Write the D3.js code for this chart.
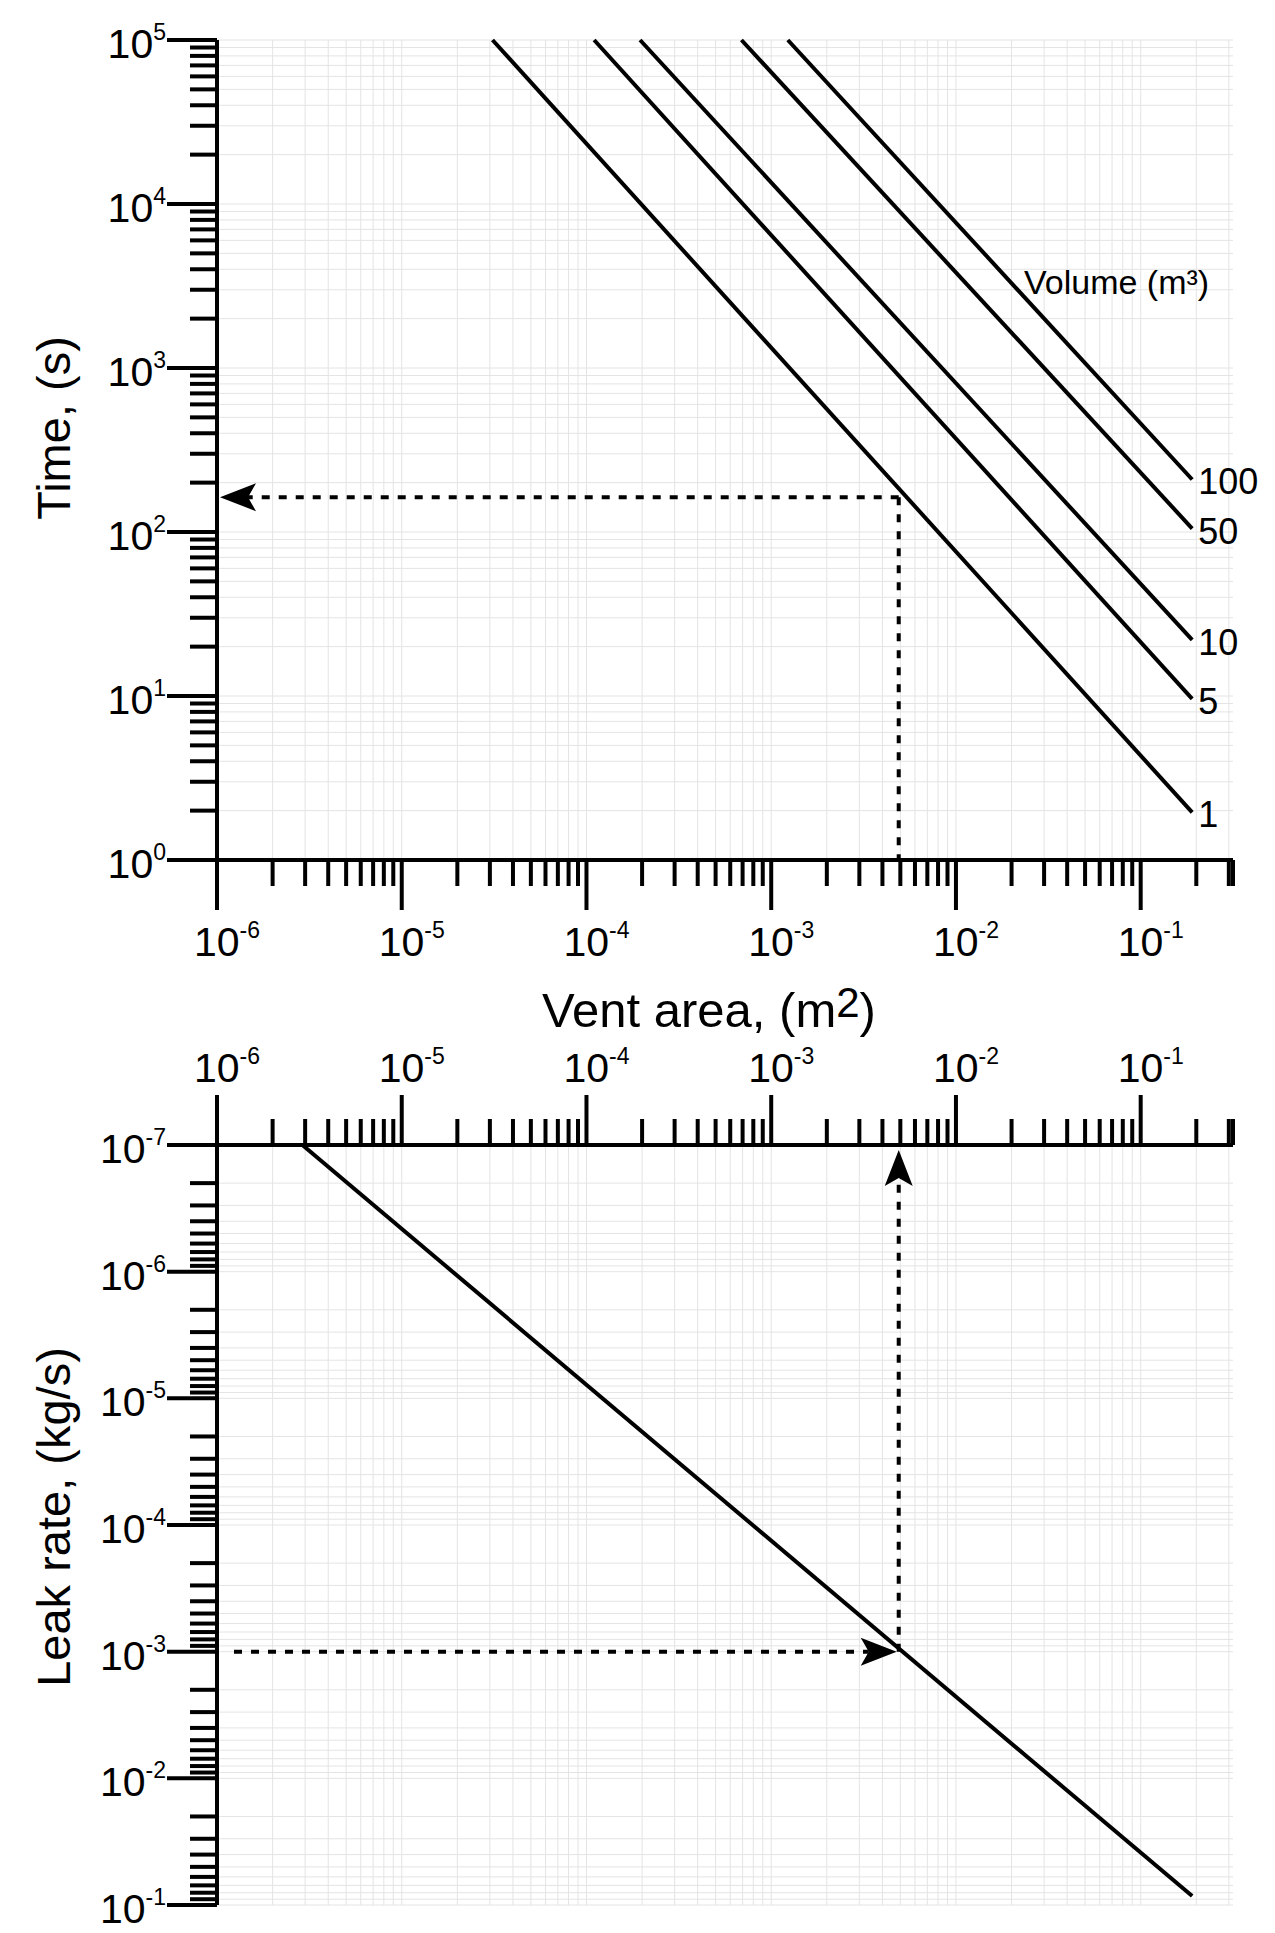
<!DOCTYPE html>
<html>
<head>
<meta charset="utf-8">
<script src="https://cdn.jsdelivr.net/npm/d3@7"></script>
<style>
body { margin: 0; background: #fff; }
text { font-family: "Liberation Sans", Arial, sans-serif; fill: #000; }
</style>
</head>
<body>
<div id="chart"></div>
<script>
var width = 1275, height = 1933;

// ---- data ----
var volumes = [1, 5, 10, 50, 100];
// each line: [vent area, time] at start and end
var timeLines = [
  [[3.1e-5, 1e5], [0.19, 1.95]],
  [[1.1e-4, 1e5], [0.19, 9.6]],
  [[1.95e-4, 1e5], [0.19, 22]],
  [[6.9e-4, 1e5], [0.19, 105]],
  [[1.23e-3, 1e5], [0.19, 209]]
];
var leakLine = [[2.9e-6, 1e-7], [0.19, 0.085]];
var exampleArea = 4.9e-3, exampleTime = 163, exampleLeak = 1e-3;
var xDecades = [-6, -5, -4, -3, -2, -1];
var timeDecades = [0, 1, 2, 3, 4, 5];
var leakDecades = [-7, -6, -5, -4, -3, -2, -1];

var svg = d3.select("#chart").append("svg").attr("width", width).attr("height", height);

var x = d3.scaleLog().domain([1e-6, 0.316]).range([217, 1233]);
var yT = d3.scaleLog().domain([1, 1e5]).range([860, 40]);
var yL = d3.scaleLog().domain([1e-7, 1e-1]).range([1145, 1905]);

// minor values
function minors(lo, hi, maxV) {
  var out = [];
  for (var e = lo; e <= hi; e++) for (var m = 1; m < 10; m++) {
    var v = m * Math.pow(10, e);
    if (v <= maxV * 1.0001) out.push({ v: v, major: m === 1 });
  }
  return out;
}
var xTicks = minors(-6, -1, 0.3);
var tTicks = minors(0, 4, 1e5).concat([{ v: 1e5, major: true }]);
var lTicks = minors(-7, -2, 0.1).concat([{ v: 0.1, major: true }]);

// grids
function grid(yScale, yt, y0, y1) {
  var g = svg.append("g").attr("stroke", "#e4e4e4").attr("stroke-width", 1);
  g.selectAll(".gx").data(xTicks).enter().append("line")
    .attr("x1", function(d) { return x(d.v); }).attr("x2", function(d) { return x(d.v); })
    .attr("y1", y0).attr("y2", y1);
  g.selectAll(".gy").data(yt).enter().append("line")
    .attr("x1", 217).attr("x2", 1233)
    .attr("y1", function(d) { return yScale(d.v); }).attr("y2", function(d) { return yScale(d.v); });
}
grid(yT, tTicks, 40, 860);
grid(yL, lTicks, 1145, 1905);

var axes = svg.append("g").attr("stroke", "#000").attr("stroke-width", 4);

function xAxis(y0, dir) {
  axes.append("line").attr("x1", 167).attr("x2", 1233).attr("y1", y0).attr("y2", y0);
  axes.selectAll(null).data(xTicks.concat([{ v: 0.316, major: false }])).enter().append("line")
    .attr("x1", function(d) { return x(d.v); }).attr("x2", function(d) { return x(d.v); })
    .attr("y1", y0).attr("y2", function(d) { return y0 + dir * (d.major ? 50 : 26); });
}
function yAxis(yScale, ticks, y0, y1) {
  axes.append("line").attr("x1", 217).attr("x2", 217).attr("y1", y0).attr("y2", y1);
  axes.selectAll(null).data(ticks).enter().append("line")
    .attr("x1", 217).attr("x2", function(d) { return d.major ? 167 : 190; })
    .attr("y1", function(d) { return yScale(d.v); }).attr("y2", function(d) { return yScale(d.v); });
}
xAxis(860, 1);
xAxis(1145, -1);
yAxis(yT, tTicks, 40, 860);
yAxis(yL, lTicks, 1145, 1905);

function powLabel(sel, e) {
  sel.append("tspan").text("10");
  sel.append("tspan").attr("font-size", 23).attr("dy", -18).text(e);
}
xDecades.forEach(function(e) {
  svg.append("text").attr("x", x(Math.pow(10, e)) + 10).attr("y", 956)
    .attr("text-anchor", "middle").attr("font-size", 41).call(powLabel, e);
  svg.append("text").attr("x", x(Math.pow(10, e)) + 10).attr("y", 1082)
    .attr("text-anchor", "middle").attr("font-size", 41).call(powLabel, e);
});
timeDecades.forEach(function(e) {
  svg.append("text").attr("x", 166).attr("y", yT(Math.pow(10, e)) + 18)
    .attr("text-anchor", "end").attr("font-size", 41).call(powLabel, e);
});
leakDecades.forEach(function(e) {
  svg.append("text").attr("x", 166).attr("y", yL(Math.pow(10, e)) + 18)
    .attr("text-anchor", "end").attr("font-size", 41).call(powLabel, e);
});

// curves
var lineT = d3.line().x(function(d) { return x(d[0]); }).y(function(d) { return yT(d[1]); });
var lineL = d3.line().x(function(d) { return x(d[0]); }).y(function(d) { return yL(d[1]); });
svg.selectAll(".tl").data(timeLines).enter().append("path")
  .attr("d", lineT).attr("fill", "none").attr("stroke", "#000").attr("stroke-width", 4);
svg.append("path").datum(leakLine).attr("d", lineL)
  .attr("fill", "none").attr("stroke", "#000").attr("stroke-width", 4);

svg.selectAll(".vl").data(volumes).enter().append("text")
  .attr("x", function(d, i) { return x(timeLines[i][1][0]) + 6; })
  .attr("y", function(d, i) { return yT(timeLines[i][1][1]) + 15; })
  .attr("font-size", 36).text(function(d) { return d; });
svg.append("text").attr("x", 1024).attr("y", 294).attr("font-size", 34)
  .text("Volume (m³)");

// dashed guide lines and arrows
var dash = svg.append("g").attr("stroke", "#000").attr("stroke-width", 4)
  .attr("stroke-dasharray", "8,9").attr("fill", "none");
dash.append("line").attr("x1", x(exampleArea)).attr("x2", x(exampleArea))
  .attr("y1", yT(exampleTime)).attr("y2", 860);
dash.append("line").attr("x1", x(exampleArea)).attr("x2", 245)
  .attr("y1", yT(exampleTime)).attr("y2", yT(exampleTime));
dash.append("line").attr("x1", 234).attr("x2", x(exampleArea) - 30)
  .attr("y1", yL(exampleLeak)).attr("y2", yL(exampleLeak));
dash.append("line").attr("x1", x(exampleArea)).attr("x2", x(exampleArea))
  .attr("y1", yL(exampleLeak)).attr("y2", 1180);

function arrow(tx, ty, dir) {
  var pts;
  if (dir === "left") pts = [[tx, ty], [tx + 36, ty - 14], [tx + 28, ty], [tx + 36, ty + 14]];
  if (dir === "right") pts = [[tx, ty], [tx - 36, ty - 14], [tx - 28, ty], [tx - 36, ty + 14]];
  if (dir === "up") pts = [[tx, ty], [tx - 14, ty + 36], [tx, ty + 28], [tx + 14, ty + 36]];
  svg.append("path").attr("d", d3.line()(pts) + "Z").attr("fill", "#000");
}
arrow(220, yT(exampleTime), "left");
arrow(x(exampleArea) - 2, yL(exampleLeak), "right");
arrow(x(exampleArea), 1150, "up");

// axis titles
svg.append("text").attr("transform", "translate(70,428) rotate(-90)")
  .attr("text-anchor", "middle").attr("font-size", 47).text("Time, (s)");
svg.append("text").attr("transform", "translate(70,1517) rotate(-90)")
  .attr("text-anchor", "middle").attr("font-size", 47).text("Leak rate, (kg/s)");
var vt = svg.append("text").attr("x", 709).attr("y", 1027).attr("text-anchor", "middle")
  .attr("font-size", 49);
vt.append("tspan").text("Vent area, (m");
vt.append("tspan").attr("font-size", 42).attr("dy", -10).text("2");
vt.append("tspan").attr("dy", 10).text(")");
</script>
</body>
</html>
